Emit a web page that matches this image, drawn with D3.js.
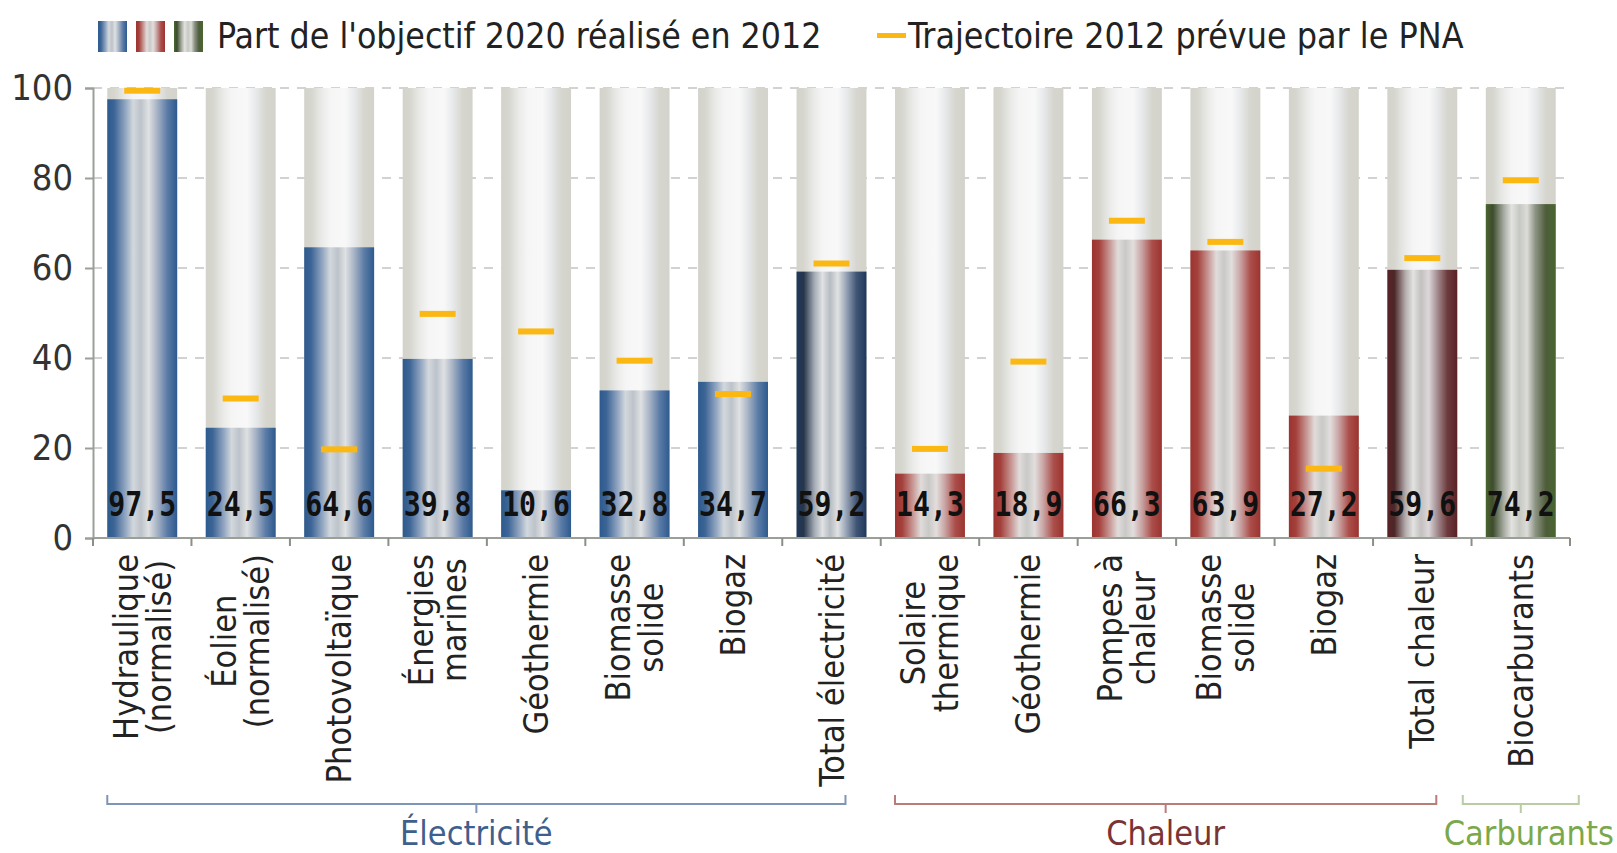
<!DOCTYPE html>
<html>
<head>
<meta charset="utf-8">
<script src="https://cdn.jsdelivr.net/npm/d3@7"></script>
<style>
  body { margin: 0; background: #fff; }
  svg { display: block; }
</style>
</head>
<body>
<svg id="chart" width="1617" height="853"></svg>
<script>
// categories, two lines max per label
const labelLines = [
  ["Hydraulique", "(normalisé)"],
  ["Éolien", "(normalisé)"],
  ["Photovoltaïque"],
  ["Énergies", "marines"],
  ["Géothermie"],
  ["Biomasse", "solide"],
  ["Biogaz"],
  ["Total électricité"],
  ["Solaire", "thermique"],
  ["Géothermie"],
  ["Pompes à", "chaleur"],
  ["Biomasse", "solide"],
  ["Biogaz"],
  ["Total chaleur"],
  ["Biocarburants"]
]
// part de l'objectif 2020 réalisé en 2012 (%)
const realised = [97.5, 24.5, 64.6, 39.8, 10.6, 32.8, 34.7, 59.2, 14.3, 18.9, 66.3, 63.9, 27.2, 59.6, 74.2]
// trajectoire 2012 prévue par le PNA (%)
const trajectory = [99.4, 31.0, 19.7, 49.8, 45.9, 39.4, 32.0, 61.0, 19.8, 39.2, 70.5, 65.8, 15.4, 62.2, 79.5]
const barKind = ["blue", "blue", "blue", "blue", "blue", "blue", "blue", "navy",
                 "red", "red", "red", "red", "red", "maroon", "green"]
const yTicks = [0, 20, 40, 60, 80, 100]
const sectors = ["Électricité", "Chaleur", "Carburants"]
const sectorFirst = [0, 8, 14]
const sectorLast = [7, 13, 14]

const font = "'Liberation Sans Narrow', 'DejaVu Sans Condensed', 'Open Sans', sans-serif"
const ids = d3.range(labelLines.length)

const svg = d3.select("#chart")
const x = d3.scaleBand().domain(ids).range([93, 1570]).paddingInner(0.29).paddingOuter(0.145)
const y = d3.scaleLinear().domain([0, 100]).range([538, 88])
const bw = x.bandwidth()

// stripes of the "metal" look
const palettes = {
  bg:     ["#d3d3cc", "#d6d6cf", "#ebebea", "#f5f5f5", "#f7f7f7", "#f8f8f8", "#e8eaec", "#d6d6cf", "#d3d3cc"],
  blue:   ["#2d5a8e", "#3d6596", "#92a6c1", "#d3d8dd", "#bcc3ca", "#dfe1e2", "#a9b4c6", "#5a7ba6", "#2d5a8e"],
  navy:   ["#20395c", "#26354a", "#a6adb6", "#e0e2e3", "#b6bcc2", "#e0e2e3", "#98a4b6", "#3f5475", "#20395c"],
  red:    ["#9c3430", "#a4403b", "#c99a97", "#e0dcdb", "#c9c9c7", "#e2dedd", "#c9a6a5", "#ab4e4a", "#9c3430"],
  maroon: ["#5a2225", "#4c2729", "#b5adad", "#e3e3e1", "#c4c0c0", "#dcd8d9", "#a58f93", "#6c3a3d", "#5a2225"],
  green:  ["#4a6530", "#3d4c2d", "#a8ada2", "#e3e3e1", "#c6c9c2", "#dcdcd8", "#8c9383", "#4e5d3b", "#4a6530"]
}
const stopAt = [0, 0.1, 0.26, 0.37, 0.48, 0.59, 0.71, 0.86, 1]

const defs = svg.append("defs")
Object.keys(palettes).forEach(k => {
  const g = defs.append("linearGradient").attr("id", "g-" + k)
    .attr("x1", 0).attr("x2", 1).attr("y1", 0).attr("y2", 0)
  palettes[k].forEach((c, i) => {
    g.append("stop").attr("offset", stopAt[i]).attr("stop-color", c)
  })
})

// grid
svg.append("g").selectAll("line").data(yTicks.filter(d => d > 0)).join("line")
  .attr("x1", 93).attr("x2", 1570)
  .attr("y1", d => y(d)).attr("y2", d => y(d))
  .attr("stroke", "#c4c4c4").attr("stroke-width", 1.5)
  .attr("stroke-dasharray", "9,8")

// bars: 100% background then realised part
const bars = svg.append("g")
bars.selectAll("rect.bg").data(ids).join("rect").attr("class", "bg")
  .attr("x", d => x(d)).attr("width", bw)
  .attr("y", y(100)).attr("height", y(0) - y(100))
  .attr("fill", "url(#g-bg)")
bars.selectAll("rect.val").data(ids).join("rect").attr("class", "val")
  .attr("x", d => x(d)).attr("width", bw)
  .attr("y", d => y(realised[d])).attr("height", d => y(0) - y(realised[d]))
  .attr("fill", d => "url(#g-" + barKind[d] + ")")

// PNA markers
svg.append("g").selectAll("rect").data(ids).join("rect")
  .attr("x", d => x(d) + bw / 2 - 18).attr("width", 36)
  .attr("y", d => y(trajectory[d]) - 3).attr("height", 6)
  .attr("fill", "#fbb812")

// value labels
svg.append("g").selectAll("text").data(ids).join("text")
  .attr("x", d => x(d) + bw / 2).attr("y", y(0) - 22)
  .attr("text-anchor", "middle")
  .attr("font-family", "'DejaVu Sans Mono', monospace")
  .attr("font-size", 33).attr("font-weight", "bold")
  .attr("textLength", bw - 2).attr("lengthAdjust", "spacingAndGlyphs")
  .attr("fill", "#111")
  .text(d => d3.format(".1f")(realised[d]).replace(".", ","))

// y axis
const yAxis = svg.append("g").attr("transform", "translate(93,0)")
  .call(d3.axisLeft(y).tickValues(yTicks).tickSize(8).tickPadding(12))
yAxis.select(".domain").attr("stroke", "#9aa098").attr("stroke-width", 2)
yAxis.selectAll(".tick line").attr("stroke", "#9aa098").attr("stroke-width", 2)
yAxis.selectAll(".tick text").attr("font-family", font).attr("font-size", 36).attr("fill", "#333")

// x axis line and separators
svg.append("line").attr("x1", 93).attr("x2", 1570).attr("y1", y(0)).attr("y2", y(0))
  .attr("stroke", "#9aa098").attr("stroke-width", 2)
svg.append("g").selectAll("line").data(d3.range(labelLines.length + 1)).join("line")
  .attr("x1", i => 93 + i * x.step()).attr("x2", i => 93 + i * x.step())
  .attr("y1", y(0)).attr("y2", y(0) + 8)
  .attr("stroke", "#8a8f88").attr("stroke-width", 2)

// category labels, rotated
const lab = svg.append("g").selectAll("g").data(ids).join("g")
  .attr("font-family", font).attr("font-size", 34).attr("fill", "#222")
lab.each(function (d) {
  const g = d3.select(this)
  const lines = labelLines[d]
  const n = lines.length
  const cx = x(d) + bw / 2
  const t = g.selectAll("text").data(lines).join("text")
    .attr("text-anchor", "middle")
    .text(s => s)
  let maxW = 0
  t.each(function () { maxW = Math.max(maxW, this.getComputedTextLength()) })
  const top = y(0) + 16
  t.attr("transform", (s, i) => {
    const lx = cx + (i - (n - 1) / 2) * 33 + 12
    return `translate(${lx},${top + maxW / 2}) rotate(-90)`
  })
})

// sector brackets
const sectorColor = ["#3f5f8c", "#7b3434", "#7aa84a"]
const bracketColor = ["#7f95b8", "#b87d7b", "#b9cca4"]
sectors.forEach((s, k) => {
  let x0 = x(sectorFirst[k]), x1 = x(sectorLast[k]) + bw * 0.7
  if (sectorFirst[k] === sectorLast[k]) {
    const c = x(sectorFirst[k]) + bw / 2
    x0 = c - 58; x1 = c + 58
  }
  const mid = (x0 + x1) / 2
  const by = 804
  svg.append("path")
    .attr("d", `M${x0},${by - 9}V${by}H${x1}V${by - 9}M${mid},${by}V${by + 9}`)
    .attr("fill", "none").attr("stroke", bracketColor[k]).attr("stroke-width", 2)
  svg.append("text").attr("x", mid + (k === 2 ? 8 : 0)).attr("y", 845)
    .attr("text-anchor", "middle")
    .attr("font-family", font).attr("font-size", 34)
    .attr("fill", sectorColor[k]).text(s)
})

// legend
const leg = svg.append("g")
const swKinds = ["blue", "red", "green"]
leg.selectAll("rect").data(swKinds).join("rect")
  .attr("x", (d, i) => 98 + i * 38).attr("y", 21).attr("width", 29).attr("height", 31)
  .attr("fill", d => "url(#g-" + d + ")")
leg.append("text").attr("x", 217).attr("y", 48)
  .attr("font-family", font).attr("font-size", 35.3).attr("fill", "#222")
  .text("Part de l'objectif 2020 réalisé en 2012")
leg.append("rect").attr("x", 877).attr("y", 33).attr("width", 29).attr("height", 5).attr("fill", "#fbb812")
leg.append("text").attr("x", 908).attr("y", 48)
  .attr("font-family", font).attr("font-size", 35.5).attr("fill", "#222")
  .text("Trajectoire 2012 prévue par le PNA")
</script>
</body>
</html>
